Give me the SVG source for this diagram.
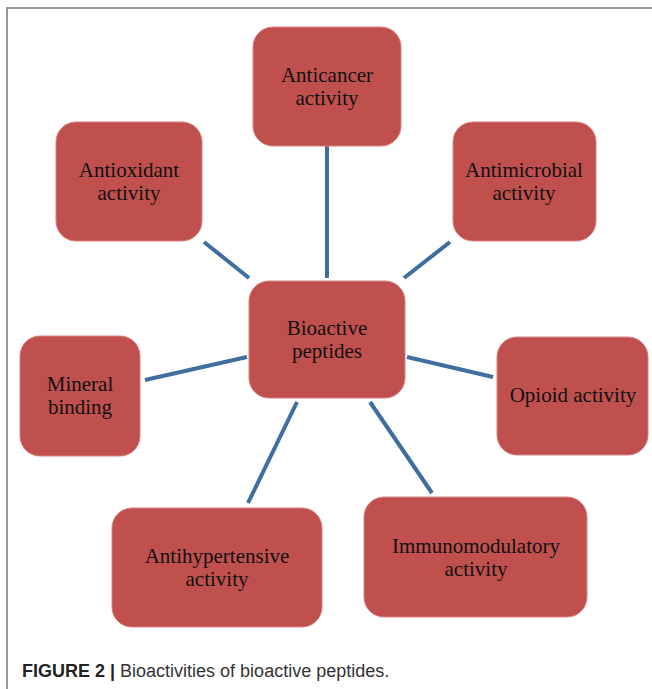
<svg xmlns="http://www.w3.org/2000/svg" width="652" height="689" viewBox="0 0 652 689">
<style>
.box{fill:#c0504d;stroke:#d9807e;stroke-width:1}
.t{font-family:"Liberation Serif","Times New Roman",serif;font-size:21px;fill:#111;text-anchor:middle}
.c{stroke:#3f6ea0;stroke-width:4;fill:none}
.cap{font-family:"Liberation Sans",Arial,sans-serif;font-size:18px;fill:#333}
</style>
<rect x="0" y="0" width="652" height="689" fill="#fff"/>
<path d="M7,689 V8 H652" fill="none" stroke="#777" stroke-width="1.5"/>
<g id="connectors">
<line class="c" x1="327" y1="146" x2="327" y2="278"/>
<line class="c" x1="204" y1="242" x2="249" y2="278"/>
<line class="c" x1="450" y1="242" x2="404" y2="278"/>
<line class="c" x1="145" y1="380" x2="247" y2="357"/>
<line class="c" x1="407" y1="357" x2="493" y2="377"/>
<line class="c" x1="297" y1="402" x2="248" y2="503"/>
<line class="c" x1="370" y1="402" x2="432" y2="493"/>
</g>
<g id="anticancer"><rect class="box" x="253" y="27" width="148" height="119" rx="20"/><text class="t" x="327" y="82">Anticancer</text><text class="t" x="327" y="105">activity</text></g>
<g id="antioxidant"><rect class="box" x="56" y="122" width="146" height="119" rx="20"/><text class="t" x="129" y="177">Antioxidant</text><text class="t" x="129" y="200">activity</text></g>
<g id="antimicrobial"><rect class="box" x="453" y="122" width="143" height="119" rx="20"/><text class="t" x="524" y="177">Antimicrobial</text><text class="t" x="524" y="200">activity</text></g>
<g id="bioactive"><rect class="box" x="249" y="281" width="156" height="117" rx="20"/><text class="t" x="327" y="335">Bioactive</text><text class="t" x="327" y="358">peptides</text></g>
<g id="mineral"><rect class="box" x="20" y="336" width="120" height="120" rx="20"/><text class="t" x="80" y="391">Mineral</text><text class="t" x="80" y="414">binding</text></g>
<g id="opioid"><rect class="box" x="497" y="337" width="151" height="118" rx="20"/><text class="t" x="573" y="402">Opioid activity</text></g>
<g id="antihypertensive"><rect class="box" x="112" y="508" width="210" height="119" rx="20"/><text class="t" x="217" y="563">Antihypertensive</text><text class="t" x="217" y="586">activity</text></g>
<g id="immunomodulatory"><rect class="box" x="364" y="497" width="223" height="120" rx="20"/><text class="t" x="476" y="553">Immunomodulatory</text><text class="t" x="476" y="576">activity</text></g>
<text class="cap" x="22" y="677"><tspan font-weight="bold" fill="#222">FIGURE 2 |</tspan> Bioactivities of bioactive peptides.</text>
</svg>
